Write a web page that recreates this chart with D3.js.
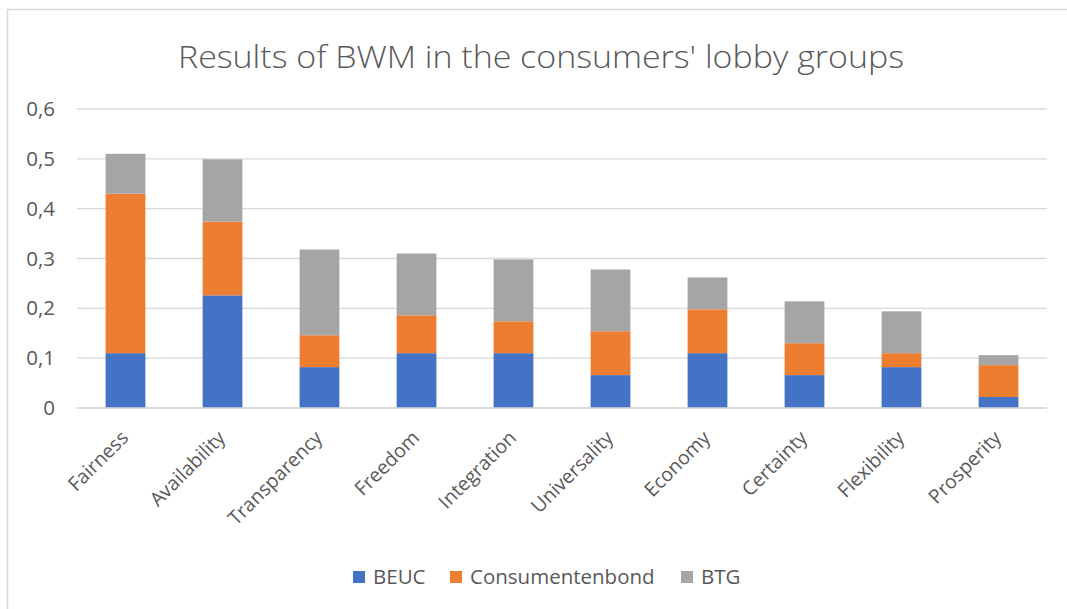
<!DOCTYPE html>
<html>
<head>
<meta charset="utf-8">
<script src="https://cdn.jsdelivr.net/npm/d3@7"></script>
<style>
  html, body { margin: 0; padding: 0; background: #fff; }
  svg { display: block; font-family: "Open Sans", "Noto Sans", sans-serif; }
</style>
</head>
<body>
<svg id="chart" width="1067" height="609"></svg>
<script>
// Priority weights per criterion, stacked by lobby group
const categories = ["Fairness", "Availability", "Transparency", "Freedom", "Integration",
                    "Universality", "Economy", "Certainty", "Flexibility", "Prosperity"];
const seriesNames = ["BEUC", "Consumentenbond", "BTG"];
const beuc            = [0.110, 0.226, 0.082, 0.110, 0.110, 0.066, 0.110, 0.066, 0.082, 0.022];
const consumentenbond = [0.320, 0.148, 0.064, 0.076, 0.064, 0.088, 0.088, 0.064, 0.028, 0.064];
const btg             = [0.080, 0.125, 0.172, 0.124, 0.124, 0.124, 0.064, 0.084, 0.084, 0.020];
const yTicks = [0, 0.1, 0.2, 0.3, 0.4, 0.5, 0.6];
const colors = ["#4472c4", "#ed7d31", "#a5a5a5"];

const rows = categories.map((c, i) => ({
  category: c, BEUC: beuc[i], Consumentenbond: consumentenbond[i], BTG: btg[i]
}));

const svg = d3.select("#chart");
const textColor = "#595959";
const font = "'Open Sans', sans-serif";

// chart frame
svg.append("rect")
  .attr("x", 7.5).attr("y", 9.5)
  .attr("width", 1070).attr("height", 620)
  .attr("fill", "#fff").attr("stroke", "#d9d9d9").attr("stroke-width", 1.5);

const plot = { left: 77, right: 1047, top: 109, bottom: 408 };

const x = d3.scaleBand().domain(categories)
  .range([plot.left, plot.right]).paddingInner(0.59).paddingOuter(0.295);
const y = d3.scaleLinear().domain([0, 0.6]).range([plot.bottom, plot.top]);

// gridlines
svg.append("g").selectAll("line").data(yTicks).join("line")
  .attr("x1", plot.left).attr("x2", plot.right)
  .attr("y1", d => y(d)).attr("y2", d => y(d))
  .attr("stroke", "#d9d9d9").attr("stroke-width", 1.3);

// y axis labels (decimal comma)
const fmt = d => d === 0 ? "0" : d3.format(".1f")(d).replace(".", ",");
const yAxis = d3.axisLeft(y).tickValues(yTicks).tickFormat(fmt).tickSize(0).tickPadding(22);
const gy = svg.append("g").attr("transform", `translate(${plot.left},0)`).call(yAxis);
gy.select(".domain").remove();
gy.selectAll("text").attr("fill", textColor).attr("font-size", 20.5)
  .attr("font-family", font);

// stacked bars
const stack = d3.stack().keys(seriesNames);
const layers = stack(rows);
svg.append("g").selectAll("g").data(layers).join("g")
  .attr("fill", (d, i) => colors[i])
  .selectAll("rect").data(d => d).join("rect")
  .attr("x", d => x(d.data.category))
  .attr("width", x.bandwidth())
  .attr("y", d => y(d[1]))
  .attr("height", d => y(d[0]) - y(d[1]));

// x axis line
svg.append("line")
  .attr("x1", plot.left).attr("x2", plot.right)
  .attr("y1", plot.bottom).attr("y2", plot.bottom)
  .attr("stroke", "#d9d9d9").attr("stroke-width", 1.3);

// x axis labels, rotated
const xAxis = d3.axisBottom(x).tickSize(0).tickPadding(0);
const gx = svg.append("g").attr("transform", `translate(0,${plot.bottom})`).call(xAxis);
gx.select(".domain").remove();
gx.selectAll("text")
  .attr("fill", textColor).attr("font-size", 19.5)
  .attr("font-family", font)
  .attr("text-anchor", "end")
  .attr("dy", 0)
  .attr("transform", "translate(4,31) rotate(-45)");

// title
svg.append("text")
  .attr("x", 541).attr("y", 68)
  .attr("text-anchor", "middle")
  .attr("fill", textColor).attr("font-size", 31)
  .attr("font-family", font).attr("font-weight", 300)
  .attr("textLength", 726).attr("lengthAdjust", "spacingAndGlyphs")
  .text("Results of BWM in the consumers' lobby groups");

// legend
const legendX = [353, 450, 681];
const lg = svg.append("g").selectAll("g").data(seriesNames).join("g")
  .attr("transform", (d, i) => `translate(${legendX[i]},577)`);
lg.append("rect").attr("x", 0).attr("y", -6).attr("width", 12).attr("height", 12)
  .attr("fill", (d, i) => colors[i]);
lg.append("text").attr("x", 20).attr("y", 7)
  .attr("fill", textColor).attr("font-size", 20.5)
  .attr("font-family", font)
  .text(d => d);
</script>
</body>
</html>
